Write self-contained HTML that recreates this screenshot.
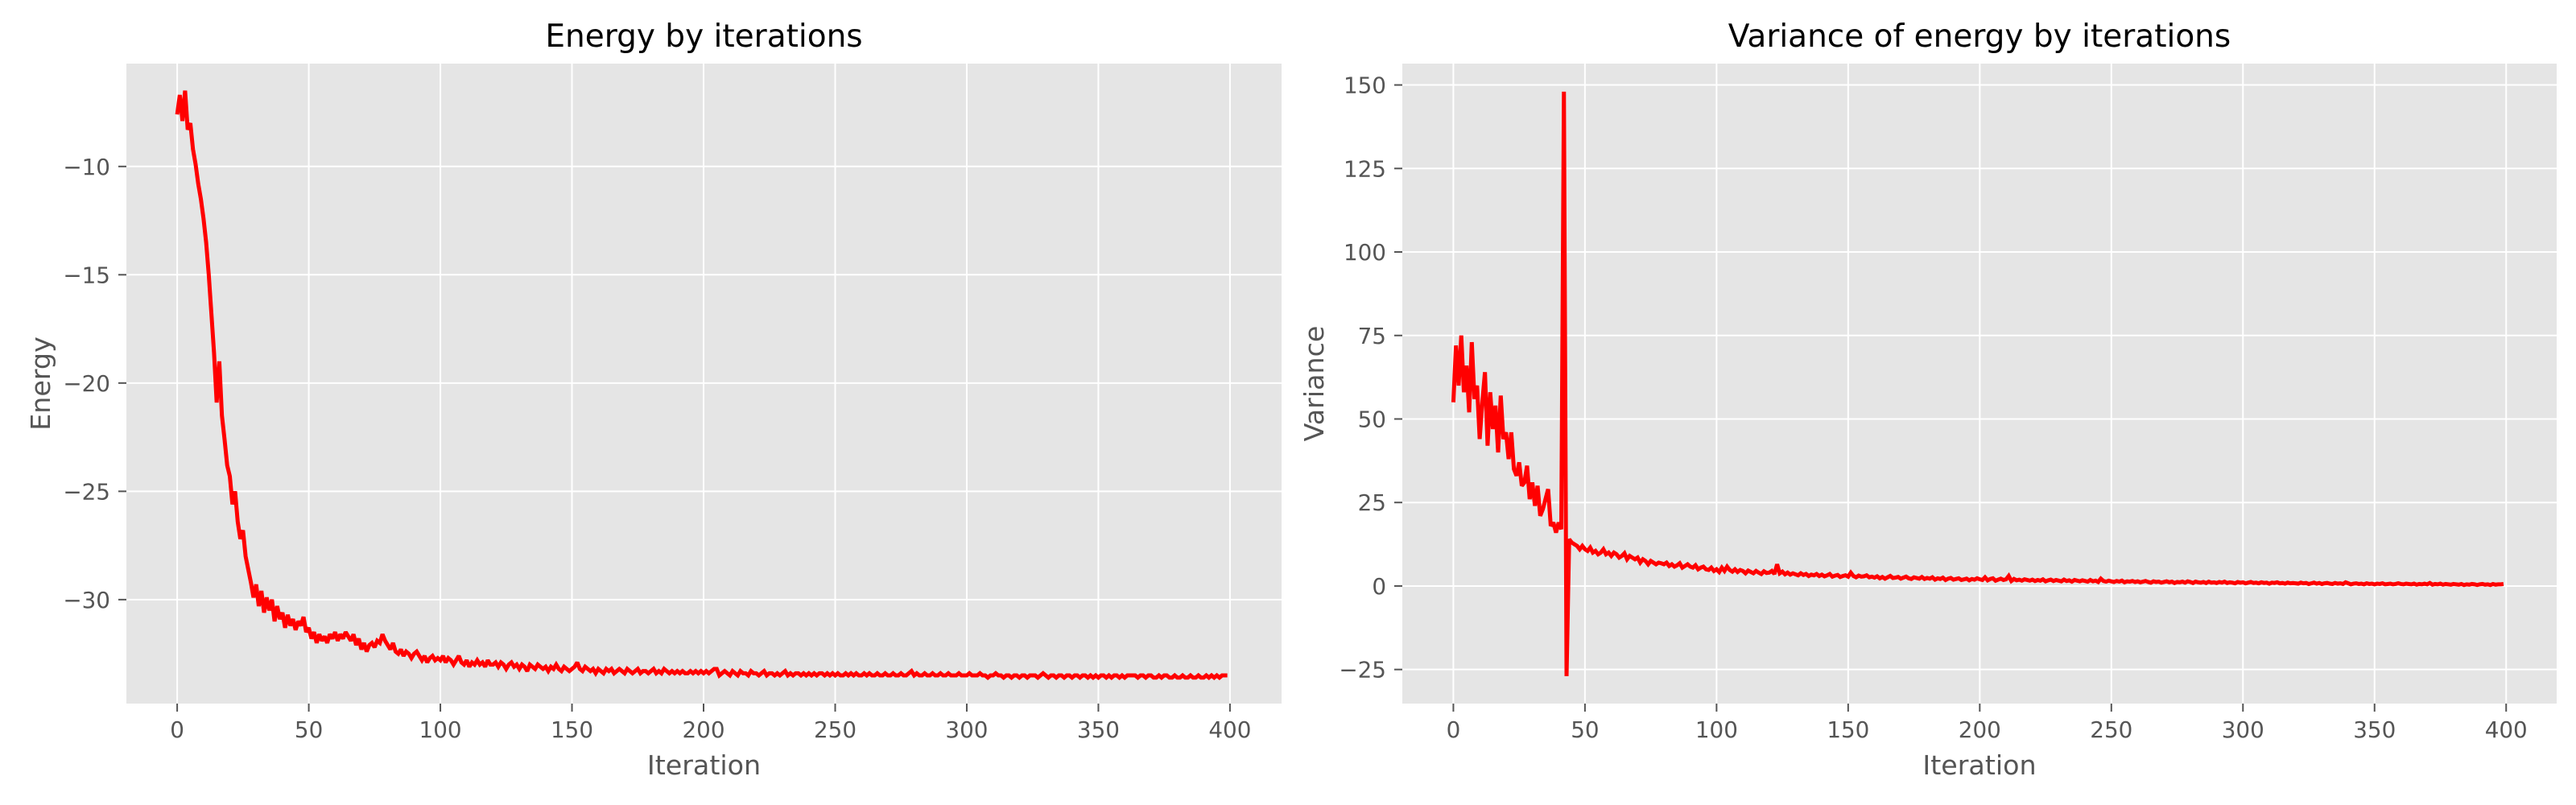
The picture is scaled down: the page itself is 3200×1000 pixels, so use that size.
<!DOCTYPE html>
<html><head><meta charset="utf-8">
<style>
html,body{margin:0;padding:0;background:#fff;}
svg{display:block;font-family:"DejaVu Sans","Liberation Sans",sans-serif;}
</style></head>
<body>
<svg id="fig" width="3200" height="1000" viewBox="0 0 3200 1000" xmlns="http://www.w3.org/2000/svg"></svg>
<script>
const iterations = Array.from({length:400},(_, i)=>i);
const energyValues = [
-7.6,-6.7,-7.9,-6.5,-8.3,-8.0,-9.2,-9.9,-10.8,-11.5,-12.4,-13.5,-15.0,-16.8,-18.6,-20.9,-19.0,-21.5,-22.6,-23.8,
-24.3,-25.6,-25.0,-26.4,-27.2,-26.8,-28.0,-28.6,-29.2,-29.9,-29.3,-30.3,-29.6,-30.6,-29.9,-30.5,-30.0,-31.0,-30.3,-30.9,
-30.6,-31.3,-30.7,-31.2,-30.9,-31.4,-31.0,-31.2,-30.8,-31.5,-31.3,-31.8,-31.5,-32.0,-31.6,-31.9,-31.7,-32.0,-31.6,-31.8,
-31.5,-31.9,-31.6,-31.8,-31.5,-31.7,-31.9,-31.6,-32.1,-31.8,-32.3,-32.0,-32.4,-32.1,-32.0,-32.2,-31.9,-32.0,-31.6,-31.9,
-32.1,-32.3,-32.0,-32.4,-32.5,-32.3,-32.6,-32.4,-32.5,-32.7,-32.5,-32.4,-32.6,-32.8,-32.6,-32.9,-32.7,-32.6,-32.8,-32.7,
-32.8,-32.6,-32.9,-32.7,-32.8,-33.0,-32.8,-32.6,-32.9,-33.0,-32.8,-33.1,-32.9,-33.0,-32.8,-33.0,-32.9,-33.1,-32.8,-33.0,
-33.0,-32.9,-33.1,-32.9,-33.0,-33.2,-33.0,-32.9,-33.1,-33.0,-33.2,-33.0,-33.1,-33.3,-33.0,-33.1,-33.2,-33.0,-33.1,-33.2,
-33.1,-33.3,-33.1,-33.2,-33.0,-33.2,-33.3,-33.1,-33.2,-33.3,-33.2,-33.1,-32.9,-33.2,-33.3,-33.1,-33.2,-33.3,-33.2,-33.4,
-33.2,-33.3,-33.4,-33.2,-33.3,-33.2,-33.4,-33.3,-33.2,-33.3,-33.4,-33.2,-33.3,-33.4,-33.3,-33.2,-33.4,-33.3,-33.3,-33.4,
-33.3,-33.2,-33.4,-33.3,-33.4,-33.2,-33.3,-33.4,-33.3,-33.4,-33.3,-33.4,-33.3,-33.4,-33.4,-33.3,-33.4,-33.3,-33.4,-33.3,
-33.4,-33.3,-33.4,-33.3,-33.2,-33.2,-33.5,-33.4,-33.3,-33.4,-33.5,-33.3,-33.4,-33.5,-33.3,-33.4,-33.4,-33.5,-33.3,-33.4,
-33.4,-33.5,-33.4,-33.3,-33.5,-33.4,-33.4,-33.5,-33.4,-33.5,-33.4,-33.3,-33.5,-33.4,-33.5,-33.4,-33.4,-33.5,-33.4,-33.5,
-33.4,-33.5,-33.4,-33.5,-33.4,-33.4,-33.5,-33.4,-33.5,-33.4,-33.5,-33.4,-33.5,-33.5,-33.4,-33.5,-33.4,-33.5,-33.4,-33.5,
-33.5,-33.4,-33.5,-33.4,-33.5,-33.5,-33.4,-33.5,-33.5,-33.4,-33.5,-33.5,-33.4,-33.5,-33.5,-33.4,-33.5,-33.5,-33.4,-33.3,
-33.5,-33.4,-33.5,-33.5,-33.4,-33.5,-33.5,-33.4,-33.5,-33.5,-33.4,-33.5,-33.5,-33.4,-33.5,-33.5,-33.5,-33.4,-33.5,-33.5,
-33.5,-33.4,-33.5,-33.5,-33.5,-33.4,-33.5,-33.5,-33.6,-33.5,-33.5,-33.4,-33.5,-33.5,-33.6,-33.5,-33.5,-33.6,-33.5,-33.5,
-33.6,-33.5,-33.5,-33.6,-33.5,-33.5,-33.5,-33.6,-33.5,-33.4,-33.5,-33.6,-33.5,-33.5,-33.6,-33.5,-33.5,-33.6,-33.5,-33.5,
-33.6,-33.5,-33.5,-33.6,-33.5,-33.5,-33.6,-33.5,-33.6,-33.5,-33.6,-33.5,-33.5,-33.6,-33.5,-33.6,-33.5,-33.5,-33.6,-33.5,
-33.6,-33.5,-33.5,-33.5,-33.5,-33.6,-33.5,-33.5,-33.6,-33.5,-33.5,-33.6,-33.6,-33.5,-33.6,-33.5,-33.5,-33.6,-33.6,-33.5,
-33.6,-33.6,-33.5,-33.6,-33.6,-33.5,-33.6,-33.6,-33.5,-33.6,-33.6,-33.5,-33.6,-33.5,-33.6,-33.5,-33.6,-33.5,-33.5,-33.5];
const varianceValues = [
55,72,60,75,58,66,52,73,56,60,44,55,64,42,58,47,54,40,57,44,
46,38,46,35,33,37,30,31,36,26,31,24,30,21,23,26,29,18,19,16,
19,17,148,-27,14,13,12.5,12,11,12,11,10.5,11.5,10,10.5,9.5,10,11,9.5,10,
9,10,9.5,8.5,9,9.8,8,9,8.5,8,8.5,7,8,7.5,6.5,7.5,7,6.5,7,6.8,
6.5,7,6,6.5,5.8,6.2,6.8,5.5,6,6.5,5.8,5.5,6.2,5,5.5,5.8,5,4.8,5.5,4.5,
5,4.2,5.5,4.5,5.8,4.8,4.3,5,4.2,4.8,4.5,3.8,4.6,4.2,3.8,4.5,4,3.6,4.4,3.9,
4,4.5,3.6,6.5,3.8,4.3,3.5,4,3.4,3.8,3.5,3.2,3.8,3.3,3.6,3,3.4,3.2,3.6,3,
3.4,2.9,3.2,3.6,2.8,3.1,3.3,2.7,3,3.2,2.8,4,3,2.6,3.1,2.8,2.9,3.2,2.6,2.8,
2.5,2.9,2.3,2.7,2.2,2.6,3,2.4,2.5,2.7,2.2,2.5,2.8,2.3,2.1,2.6,2.4,2.2,2.7,2.1,
2.4,2.2,2.6,1.9,2.3,2.1,2.5,1.8,2.2,2.4,1.9,2.1,2.3,1.8,2,2.2,1.7,2.1,1.9,2.3,
2,1.8,2.6,1.7,2.1,2.3,1.6,1.9,2.2,1.8,2,3,1.5,2.1,1.7,1.9,1.6,2,1.8,1.6,
1.9,1.5,1.8,1.6,2,1.4,1.7,1.9,1.5,1.8,1.6,1.4,1.9,1.5,1.7,1.3,1.8,1.6,1.4,1.7,
1.5,1.3,1.8,1.4,1.6,1.2,2.2,1.5,1.3,1.6,1.4,1.2,1.5,1.3,1.6,1.1,1.4,1.3,1.5,1.2,
1.4,1.1,1.3,1.5,1.2,1,1.4,1.2,1.3,1,1.2,1.4,1.1,1.3,0.9,1.2,1.1,1.3,1,1.4,
1.2,0.9,1.3,1.1,1,1.2,0.9,1.3,1,1.1,0.9,1.2,1,1.3,0.9,1.1,1,0.8,1.2,1,
1.1,0.8,1,1.2,0.9,1,0.8,1.1,0.9,1,0.7,1,0.9,1.1,0.8,0.9,0.7,1,0.8,0.9,
0.8,0.7,1,0.8,0.9,0.6,0.8,1,0.7,0.9,0.6,0.8,0.9,0.7,0.6,0.9,0.7,0.8,0.6,1.1,
0.8,0.5,0.7,0.8,0.6,0.7,0.5,0.8,0.6,0.7,0.5,0.7,0.6,0.8,0.5,0.6,0.7,0.5,0.6,0.8,
0.6,0.5,0.7,0.6,0.5,0.7,0.4,0.6,0.5,0.7,0.5,0.9,0.4,0.6,0.5,0.7,0.4,0.6,0.5,0.4,
0.6,0.5,0.4,0.6,0.3,0.5,0.4,0.6,0.5,0.3,0.5,0.6,0.4,0.5,0.3,0.6,0.4,0.5,0.5,0.6];
const xTicks = [0,50,100,150,200,250,300,350,400];
const energyTicks = [-10,-15,-20,-25,-30];
const varianceTicks = [150,125,100,75,50,25,0,-25];

const NS = "http://www.w3.org/2000/svg";
const svg = document.getElementById('fig');
function mk(tag, attrs, parent){
  const e = document.createElementNS(NS, tag);
  for (const k in attrs) e.setAttribute(k, attrs[k]);
  (parent||svg).appendChild(e);
  return e;
}
function fmt(v){ return v<0 ? '\u2212'+Math.abs(v) : String(v); }

function drawPanel(cfg){
  const g = mk('g', {});
  
  
  const L=cfg.left, R=cfg.right, T=79, B=874;
  const sx = v => L + (v - cfg.xmin) / (cfg.xmax - cfg.xmin) * (R - L);
  const sy = v => B - (v - cfg.ymin) / (cfg.ymax - cfg.ymin) * (B - T);
  const bg = mk('rect', {x:L, y:T, width:R-L, height:B-T, fill:'#e5e5e5'}, g);
  
  
  xTicks.forEach(t => {
    const x = sx(t);
    const gl = mk('line', {x1:x, x2:x, y1:T, y2:B, stroke:'#fff', 'stroke-width':2}, g);
    
    
    mk('line', {x1:x, x2:x, y1:B, y2:B+10, stroke:'#555', 'stroke-width':2}, g);
    const tx = mk('text', {x:x, y:916, 'font-size':27.8, fill:'#555', 'text-anchor':'middle'}, g);
    tx.textContent = fmt(t);
    
    
  });
  cfg.yTicks.forEach(t => {
    const y = sy(t);
    const gl = mk('line', {x1:L, x2:R, y1:y, y2:y, stroke:'#fff', 'stroke-width':2}, g);
    
    
    mk('line', {x1:L-10, x2:L, y1:y, y2:y, stroke:'#555', 'stroke-width':2}, g);
    const tx = mk('text', {x:L-20, y:y+10, 'font-size':27.8, fill:'#555', 'text-anchor':'end'}, g);
    tx.textContent = fmt(t);
    
    
  });
  const clipId = cfg.name + '-clip';
  const cp = mk('clipPath', {id:clipId}, g);
  mk('rect', {x:L, y:T, width:R-L, height:B-T}, cp);
  const d = cfg.values.map((v,i)=>(i?'L':'M')+sx(iterations[i]).toFixed(2)+' '+sy(v).toFixed(2)).join(' ');
  const line = mk('path', {d:d, fill:'none', stroke:'#ff0000', 'stroke-width':5, 'stroke-linejoin':'miter', 'stroke-miterlimit':2, 'clip-path':'url(#'+clipId+')'}, g);
  
  
  const title = mk('text', {x:(L+R)/2, y:58, 'font-size':39, fill:'#000', 'text-anchor':'middle'}, g);
  title.textContent = cfg.title;
  
  
  const xl = mk('text', {x:(L+R)/2, y:962, 'font-size':33.3, fill:'#555', 'text-anchor':'middle'}, g);
  xl.textContent = 'Iteration';
  
  
  const cy = (T+B)/2;
  const yl = mk('text', {x:cfg.ylabelX, y:cy, 'font-size':33.3, fill:'#555', 'text-anchor':'middle', transform:'rotate(-90 '+cfg.ylabelX+' '+cy+')'}, g);
  yl.textContent = cfg.ylabel;
  
  
}

drawPanel({name:'energy-chart', left:157, right:1592, xmin:-19.3, xmax:419.6, ymin:-34.8, ymax:-5.25,
  yTicks:energyTicks, values:energyValues, title:'Energy by iterations', ylabel:'Energy', ylabelX:62});
drawPanel({name:'variance-chart', left:1742, right:3176, xmin:-19.4, xmax:419.2, ymin:-35.2, ymax:156.4,
  yTicks:varianceTicks, values:varianceValues, title:'Variance of energy by iterations', ylabel:'Variance', ylabelX:1644});
</script>
</body></html>
